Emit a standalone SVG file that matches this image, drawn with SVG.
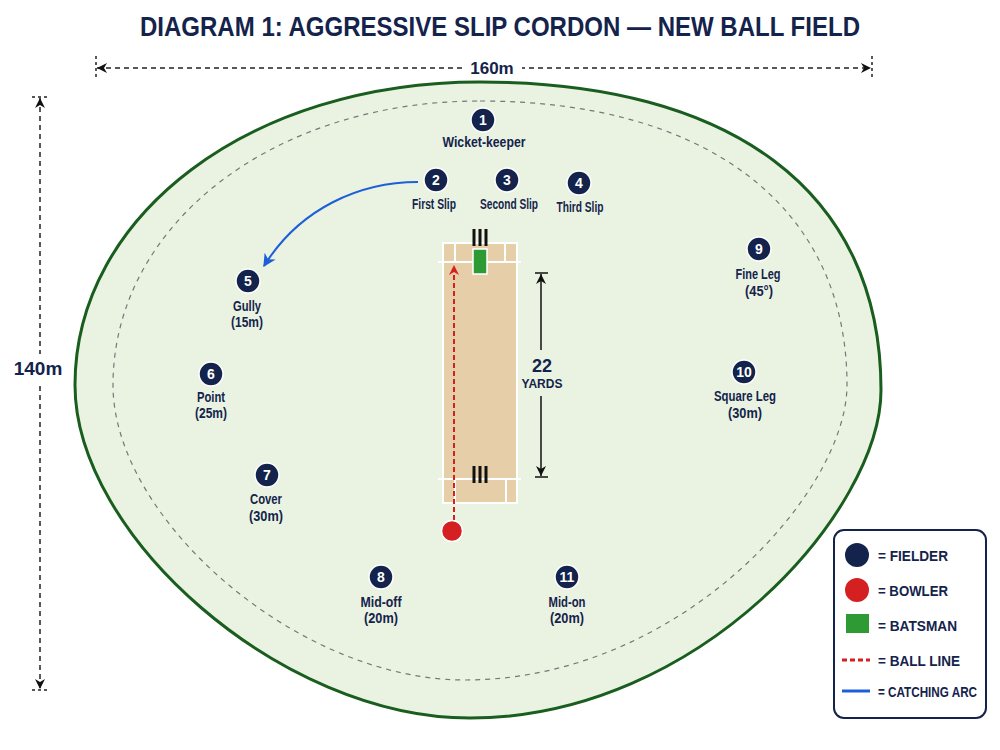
<svg xmlns="http://www.w3.org/2000/svg" width="1000" height="750" viewBox="0 0 1000 750">
<defs>
<style>
.t{font-family:"Liberation Sans Narrow","Liberation Sans",Arial,sans-serif;font-weight:bold;fill:#14234b}
.lbl{font-size:14px;text-anchor:middle}
.num{font-family:"Liberation Sans",Arial,sans-serif;font-weight:bold;font-size:14px;fill:#fff;text-anchor:middle}
.fc{fill:#14234b;stroke:#fff;stroke-width:1.5}
.dim{stroke:#222;stroke-width:1.5;stroke-dasharray:5 4;fill:none}
.tick{stroke:#222;stroke-width:1.5;stroke-dasharray:3 3}
.crease{stroke:#fff;stroke-width:2}
.stump{stroke:#111;stroke-width:3}
.leg{font-size:15px}
</style>
<marker id="aDim" viewBox="0 0 10 10" refX="10" refY="5" markerWidth="10" markerHeight="10" markerUnits="userSpaceOnUse" orient="auto-start-reverse"><path d="M0,0 L10,5 L0,10 L3,5 z" fill="#111"/></marker>
<marker id="aYd" viewBox="0 0 10 10" refX="10" refY="5" markerWidth="10" markerHeight="10" markerUnits="userSpaceOnUse" orient="auto-start-reverse"><path d="M0,0 L10,5 L0,10 L3,5 z" fill="#111"/></marker>
<marker id="aRed" viewBox="0 0 10 10" refX="9" refY="5" markerWidth="10" markerHeight="10" markerUnits="userSpaceOnUse" orient="auto"><path d="M0,0 L10,5 L0,10 L3,5 z" fill="#d42020"/></marker>
<marker id="aBlue" viewBox="0 0 10 10" refX="9" refY="5" markerWidth="13" markerHeight="13" markerUnits="userSpaceOnUse" orient="auto"><path d="M0,0 L10,5 L0,10 L3,5 z" fill="#1d5fd8"/></marker>
</defs>
<rect width="1000" height="750" fill="#fff"/>
<text class="t" x="500" y="36" font-size="28" text-anchor="middle" textLength="720" lengthAdjust="spacingAndGlyphs">DIAGRAM 1: AGGRESSIVE SLIP CORDON — NEW BALL FIELD</text>

<g id="field">
<path d="M480,82 C730,82 881,190 881,390 C881,510 700,718 470,718 C280,718 75,535 75,385 C75,215 250,82 480,82 Z" fill="#eaf3e2" stroke="#1a5e1f" stroke-width="3"/>
<path d="M480,101 C705,101 847,205 847,385 C847,493 679,680 465,680 C296,680 113,518 113,385 C113,226 271,101 480,101 Z" fill="none" stroke="#777" stroke-width="1.2" stroke-dasharray="5 5"/>
</g>

<g id="dimensions">
<line class="tick" x1="96" y1="56" x2="96" y2="80"/>
<line class="tick" x1="872" y1="56" x2="872" y2="80"/>
<line class="dim" x1="97" y1="68" x2="871" y2="68" marker-start="url(#aDim)" marker-end="url(#aDim)"/>
<rect x="462" y="58" width="60" height="20" fill="#fff"/>
<text class="t" x="492" y="74" font-size="17" text-anchor="middle">160m</text>
<line class="tick" x1="32" y1="97" x2="48" y2="97"/>
<line class="tick" x1="32" y1="690" x2="48" y2="690"/>
<line class="dim" x1="40" y1="98" x2="40" y2="689" marker-start="url(#aDim)" marker-end="url(#aDim)"/>
<rect x="12" y="354" width="52" height="28" fill="#fff"/>
<text class="t" x="38" y="375" font-size="19" text-anchor="middle">140m</text>
</g>

<g id="pitch">
<rect x="443" y="243" width="74" height="260" fill="#e6cfa8" stroke="#fff" stroke-width="2"/>
<line class="crease" x1="438" y1="262" x2="521" y2="262"/>
<line class="crease" x1="455" y1="243" x2="455" y2="262"/>
<line class="crease" x1="505" y1="243" x2="505" y2="262"/>
<line class="crease" x1="438" y1="479" x2="521" y2="479"/>
<line class="crease" x1="455" y1="479" x2="455" y2="503"/>
<line class="crease" x1="506" y1="479" x2="506" y2="503"/>
<line class="stump" x1="474" y1="229" x2="474" y2="246"/>
<line class="stump" x1="480" y1="229" x2="480" y2="246"/>
<line class="stump" x1="486" y1="229" x2="486" y2="246"/>
<line class="stump" x1="474" y1="466" x2="474" y2="483"/>
<line class="stump" x1="480" y1="466" x2="480" y2="483"/>
<line class="stump" x1="486" y1="466" x2="486" y2="483"/>
</g>

<g id="yards">
<line x1="535" y1="273" x2="548" y2="273" stroke="#111" stroke-width="1.5"/>
<line x1="535" y1="477" x2="548" y2="477" stroke="#111" stroke-width="1.5"/>
<line x1="541" y1="350" x2="541" y2="274" stroke="#111" stroke-width="1.5" marker-end="url(#aYd)"/>
<line x1="541" y1="396" x2="541" y2="476" stroke="#111" stroke-width="1.5" marker-end="url(#aYd)"/>
<text class="t" x="542" y="372" font-size="18" text-anchor="middle">22</text>
<text class="t" x="542" y="388" font-size="12" text-anchor="middle">YARDS</text>
</g>

<g id="connectors">
<line x1="454" y1="520" x2="454" y2="266" stroke="#d42020" stroke-width="2" stroke-dasharray="5 3" marker-end="url(#aRed)"/>
<path d="M418,182 C360,182 300,208 264,266" fill="none" stroke="#1d5fd8" stroke-width="2" marker-end="url(#aBlue)"/>
</g>

<g id="batsman"><rect x="473" y="249" width="14" height="25" fill="#2e9a34" stroke="#fff" stroke-width="1.5"/></g>
<g id="bowler"><circle cx="452" cy="531" r="10.5" fill="#d42020" stroke="#fff" stroke-width="1.5"/></g>

<g id="f1"><circle class="fc" cx="483" cy="120" r="12"/><text class="num" x="483" y="125">1</text><text class="t lbl" x="484" y="147" textLength="83" lengthAdjust="spacingAndGlyphs">Wicket-keeper</text></g>
<g id="f2"><circle class="fc" cx="436" cy="180" r="12"/><text class="num" x="436" y="185">2</text><text class="t lbl" x="434" y="209" textLength="44" lengthAdjust="spacingAndGlyphs">First Slip</text></g>
<g id="f3"><circle class="fc" cx="507" cy="180" r="12"/><text class="num" x="507" y="185">3</text><text class="t lbl" x="509" y="209" textLength="58" lengthAdjust="spacingAndGlyphs">Second Slip</text></g>
<g id="f4"><circle class="fc" cx="579" cy="183" r="12"/><text class="num" x="579" y="188">4</text><text class="t lbl" x="580" y="212" textLength="47" lengthAdjust="spacingAndGlyphs">Third Slip</text></g>
<g id="f5"><circle class="fc" cx="248" cy="281" r="12"/><text class="num" x="248" y="286">5</text><text class="t lbl" x="247" y="311" textLength="28" lengthAdjust="spacingAndGlyphs">Gully</text><text class="t lbl" x="247" y="327" textLength="32" lengthAdjust="spacingAndGlyphs">(15m)</text></g>
<g id="f6"><circle class="fc" cx="211" cy="374" r="12"/><text class="num" x="211" y="379">6</text><text class="t lbl" x="211" y="402" textLength="28" lengthAdjust="spacingAndGlyphs">Point</text><text class="t lbl" x="211" y="418" textLength="32" lengthAdjust="spacingAndGlyphs">(25m)</text></g>
<g id="f7"><circle class="fc" cx="267" cy="475" r="12"/><text class="num" x="267" y="480">7</text><text class="t lbl" x="266" y="504" textLength="32" lengthAdjust="spacingAndGlyphs">Cover</text><text class="t lbl" x="266" y="521" textLength="34" lengthAdjust="spacingAndGlyphs">(30m)</text></g>
<g id="f8"><circle class="fc" cx="381" cy="577" r="12"/><text class="num" x="381" y="582">8</text><text class="t lbl" x="381" y="607" textLength="41" lengthAdjust="spacingAndGlyphs">Mid-off</text><text class="t lbl" x="381" y="623" textLength="34" lengthAdjust="spacingAndGlyphs">(20m)</text></g>
<g id="f9"><circle class="fc" cx="759" cy="249" r="12"/><text class="num" x="759" y="254">9</text><text class="t lbl" x="758" y="279" textLength="45" lengthAdjust="spacingAndGlyphs">Fine Leg</text><text class="t lbl" x="759" y="296" textLength="28" lengthAdjust="spacingAndGlyphs">(45°)</text></g>
<g id="f10"><circle class="fc" cx="744" cy="372" r="12"/><text class="num" x="744" y="377" font-size="13">10</text><text class="t lbl" x="745" y="401" textLength="62" lengthAdjust="spacingAndGlyphs">Square Leg</text><text class="t lbl" x="745" y="418" textLength="34" lengthAdjust="spacingAndGlyphs">(30m)</text></g>
<g id="f11"><circle class="fc" cx="567" cy="577" r="12"/><text class="num" x="567" y="582" font-size="13">11</text><text class="t lbl" x="567" y="607" textLength="37" lengthAdjust="spacingAndGlyphs">Mid-on</text><text class="t lbl" x="567" y="623" textLength="34" lengthAdjust="spacingAndGlyphs">(20m)</text></g>

<g id="legend">
<rect x="834" y="530" width="152" height="188" rx="10" fill="#fff" stroke="#14234b" stroke-width="2"/>
<circle cx="857" cy="555" r="12" fill="#14234b"/>
<text class="t leg" x="878" y="561" textLength="70" lengthAdjust="spacingAndGlyphs">= FIELDER</text>
<circle cx="857" cy="590" r="12" fill="#d42020"/>
<text class="t leg" x="878" y="596" textLength="70" lengthAdjust="spacingAndGlyphs">= BOWLER</text>
<rect x="846" y="614" width="23" height="19" fill="#2e9a34"/>
<text class="t leg" x="878" y="631" textLength="79" lengthAdjust="spacingAndGlyphs">= BATSMAN</text>
<line x1="842" y1="660" x2="870" y2="660" stroke="#d42020" stroke-width="3" stroke-dasharray="5 3"/>
<text class="t leg" x="878" y="666" textLength="82" lengthAdjust="spacingAndGlyphs">= BALL LINE</text>
<line x1="842" y1="691" x2="870" y2="691" stroke="#1d5fd8" stroke-width="3"/>
<text class="t leg" transform="translate(878,697) scale(0.78,1)" x="0" y="0">= CATCHING ARC</text>
</g>
</svg>
